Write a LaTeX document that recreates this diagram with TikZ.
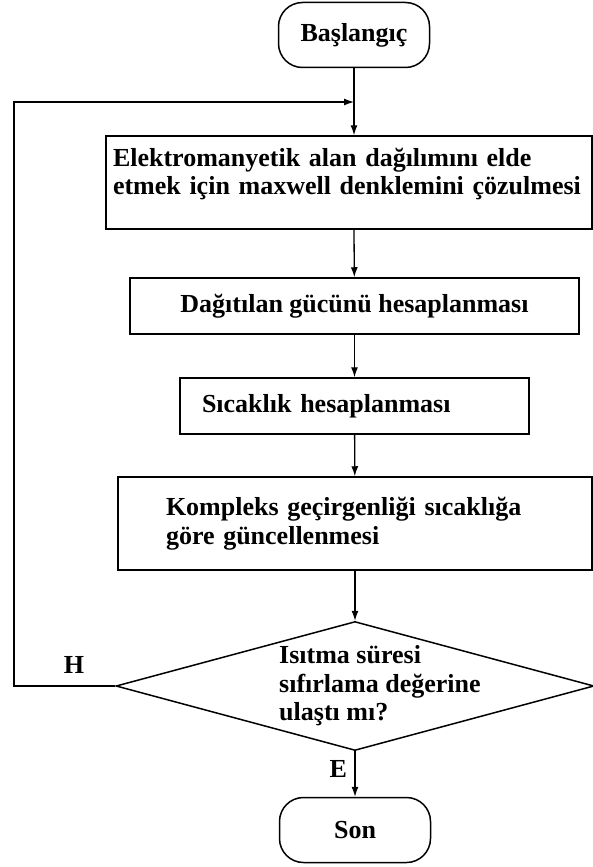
\documentclass[tikz,border=0pt]{standalone}
\usepackage{fontspec}
\setmainfont{Liberation Serif}
\usetikzlibrary{shapes.geometric,arrows.meta,positioning}

\begin{document}
\begin{tikzpicture}[x=1pt,y=1pt,
    every node/.style={font=\fontsize{26}{28.5}\selectfont\bfseries},
    flowbox/.style={draw,line width=1.5pt,rectangle,inner sep=0pt},
    terminal/.style={draw,line width=1.5pt,rectangle,rounded corners=24pt,
        minimum width=151pt,minimum height=65pt},
    decision/.style={draw,line width=1.5pt,diamond,inner sep=0pt},
    txt/.style={align=left,inner sep=0pt},
    flow/.style={line width=1.3pt,-{Latex[length=10pt,width=7pt]}}]
    \useasboundingbox (0,0) rectangle (593,-867);

    \node[terminal] (start) at (354,-35) {Başlangıç};

    \node[flowbox,text width=472pt,inner xsep=7pt,align=left,minimum height=93pt]
        (solve) at (349,-182.5)
        {Elektromanyetik alan dağılımını elde\\etmek için maxwell denklemini çözulmesi\rule[-22pt]{0pt}{0pt}};
    \node[flowbox,minimum width=449pt,minimum height=56pt] (power) at (354.5,-306)
        {Dağıtılan gücünü hesaplanması};
    \node[flowbox,text width=305pt,inner xsep=22pt,align=left,minimum height=56pt]
        (temp) at (354.5,-406) {Sıcaklık hesaplanması};
    \node[flowbox,text width=378pt,inner xsep=48pt,align=left,minimum height=93pt]
        (update) at (355,-523.5) {Kompleks geçirgenliği sıcaklığa\\göre güncellenmesi};

    % karar
    \node[decision,minimum width=478pt,minimum height=129pt] (ask) at (355,-686) {};
    \node[txt,anchor=west] (ask-t) at (279,-686) {Isıtma süresi\\sıfırlama değerine\\ulaştı mı?};

    \node[terminal] (stop) at (355,-830) {Son};

    \coordinate (merge) at (354,-102);
    \coordinate (back) at (14,-102);

    \draw[flow] (start) -- (start |- solve.north);
    \draw[flow] (start |- solve.south) -- (power);
    \draw[flow] (power) -- (temp);
    \draw[flow] (temp) -- (update);
    \draw[flow] (update) -- (ask);
    \draw[flow] (ask) -- node[left=4pt,pos=0.4] (yes) {E} (stop);
    \draw[flow] (ask.west) -| (back) -- (merge);
    \node (no) at (74,-665) {H};
\end{tikzpicture}
\end{document}
